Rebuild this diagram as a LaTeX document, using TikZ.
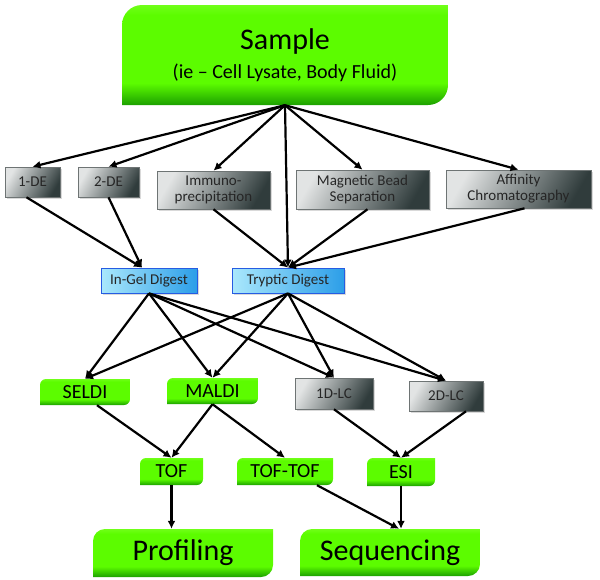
\documentclass[tikz,border=0pt]{standalone}
\usepackage{fontspec}
\setmainfont{Carlito}
\usetikzlibrary{arrows.meta, calc, shadows}

\definecolor{leaflime}{RGB}{92,252,0}
\definecolor{leaftop}{RGB}{112,255,24}
\definecolor{leafdark}{RGB}{28,160,0}
\definecolor{slatelight}{RGB}{226,228,228}
\definecolor{slatedark}{RGB}{48,60,60}
\definecolor{slateedge}{RGB}{110,116,116}
\definecolor{digestlight}{RGB}{170,232,252}
\definecolor{digestdark}{RGB}{44,158,232}
\definecolor{digestedge}{RGB}{38,92,226}

\pgfdeclareverticalshading{leafgreen}{100bp}{color(0bp)=(leafdark); color(25bp)=(leafdark); color(36bp)=(leaflime); color(70bp)=(leaflime); color(75bp)=(leaftop); color(100bp)=(leaftop)}

\begin{document}
\begin{tikzpicture}[
  x=1pt, y=-1pt,
  leaf/.style={
    inner sep=0pt,
    align=center,
    font=\fontsize{20}{22}\selectfont,
    path picture={\shade[shading=leafgreen]
      (path picture bounding box.south west)
      -- ($(path picture bounding box.north west)+(0pt,-#1)$)
      arc[start angle=180, end angle=90, radius=#1]
      -- (path picture bounding box.north east)
      -- ($(path picture bounding box.south east)+(0pt,#1)$)
      arc[start angle=0, end angle=-90, radius=#1]
      -- cycle;}
  },
  leaf/.default=6pt,
  slab/.style={
    draw=slateedge,
    line width=0.6pt,
    align=center,
    inner sep=1pt,
    left color=slatelight,
    right color=slatedark,
    shading angle=60,
    text=black!85,
    font=\fontsize{15}{16}\selectfont,
    drop shadow={shadow xshift=1.5pt, shadow yshift=-1.5pt, opacity=0.3}
  },
  digest/.style={
    draw=digestedge,
    line width=0.8pt,
    inner sep=1pt,
    left color=digestlight,
    right color=digestdark,
    text=black!85,
    font=\fontsize{15}{16}\selectfont,
    drop shadow={shadow xshift=1.5pt, shadow yshift=-1.5pt, opacity=0.3}
  },
  flow/.style={-{Latex[length=8pt,width=8pt]}, line width=2.2pt}
]
\useasboundingbox (0,0) rectangle (600,579);

\node[leaf=20pt, minimum width=326pt, minimum height=100pt] (sample) at (285,55)
  {{\fontsize{30}{32}\selectfont Sample}\\[7pt](ie – Cell Lysate, Body Fluid)};

\node[slab, minimum width=55pt, minimum height=30pt] (onede) at (32.5,182) {1-DE};
\node[slab, minimum width=61pt, minimum height=30pt] (twode) at (108.5,182) {2-DE};
\node[slab, minimum width=113pt, minimum height=38pt] (immuno) at (213.5,190)
  {Immuno-\\precipitation};
\node[slab, minimum width=133pt, minimum height=39pt] (magnetic) at (362.5,189.5)
  {Magnetic Bead\\Separation};
\node[slab, minimum width=145pt, minimum height=38pt] (affinity) at (518.5,189)
  {Affinity\\Chromatography};

\node[digest, minimum width=96pt, minimum height=25pt] (ingel) at (149,280.5) {In-Gel Digest};
\node[digest, minimum width=112pt, minimum height=25pt] (tryptic) at (288,280.5) {Tryptic Digest};

\node[leaf, minimum width=90pt, minimum height=26pt] (seldi) at (85,392) {SELDI};
\node[leaf, minimum width=91pt, minimum height=26pt] (maldi) at (212.5,391) {MALDI};
\node[slab, minimum width=78pt, minimum height=31pt] (onelc) at (334,393.5) {1D-LC};
\node[slab, minimum width=74pt, minimum height=30pt] (twolc) at (446,396) {2D-LC};

\node[leaf, minimum width=63pt, minimum height=27pt] (tof) at (171.5,471.5) {TOF};
\node[leaf, minimum width=96pt, minimum height=27pt] (toftof) at (285,471.5) {TOF-TOF};
\node[leaf, minimum width=68pt, minimum height=28pt] (esi) at (401,472) {ESI};

\node[leaf=12pt, minimum width=180pt, minimum height=48pt, font=\fontsize{30}{32}\selectfont]
  (profiling) at (183,553) {Profiling};
\node[leaf=12pt, minimum width=180pt, minimum height=47pt, font=\fontsize{30}{32}\selectfont]
  (sequencing) at (390,552.5) {Sequencing};

\draw[flow] (sample.south) -- (onede.north);
\draw[flow] (sample.south) -- (twode.north);
\draw[flow] (sample.south) -- (immuno.north);
\draw[flow] (sample.south) -- (magnetic.north);
\draw[flow] (sample.south) -- (affinity.north);
\draw[flow] (sample.south) -- (tryptic.north);

\draw[flow] ($(onede.south)+(-6pt,0pt)$) -- ($(ingel.north)+(-7pt,0pt)$);
\draw[flow] (twode.south) -- ($(ingel.north)+(-7pt,0pt)$);
\draw[flow] (immuno.south) -- (tryptic.north);
\draw[flow] ($(magnetic.south)+(5pt,0pt)$) -- (tryptic.north);
\draw[flow] ($(affinity.south)+(6pt,0pt)$) -- (tryptic.north);

\draw[flow] (ingel.south) -- (seldi.north);
\draw[flow] (ingel.south) -- (maldi.north);
\draw[flow] (ingel.south) -- (onelc.north);
\draw[flow] (ingel.south) -- (twolc.north);
\draw[flow] (tryptic.south) -- (seldi.north);
\draw[flow] (tryptic.south) -- (maldi.north);
\draw[flow] (tryptic.south) -- (onelc.north);
\draw[flow] (tryptic.south) -- (twolc.north);

\draw[flow] ($(seldi.south)+(12pt,0pt)$) -- (tof.north);
\draw[flow] (maldi.south) -- (tof.north);
\draw[flow] (maldi.south) -- (toftof.north);
\draw[flow] (onelc.south) -- (esi.north);
\draw[flow] ($(twolc.south)+(20pt,0pt)$) -- (esi.north);

\draw[flow] (tof.south) -- (tof.south |- profiling.north);
\draw[flow] ($(toftof.south)+(32pt,0pt)$) -- ($(esi.south |- sequencing.north)+(-2pt,0pt)$);
\draw[flow] (esi.south) -- (esi.south |- sequencing.north);
\end{tikzpicture}
\end{document}
